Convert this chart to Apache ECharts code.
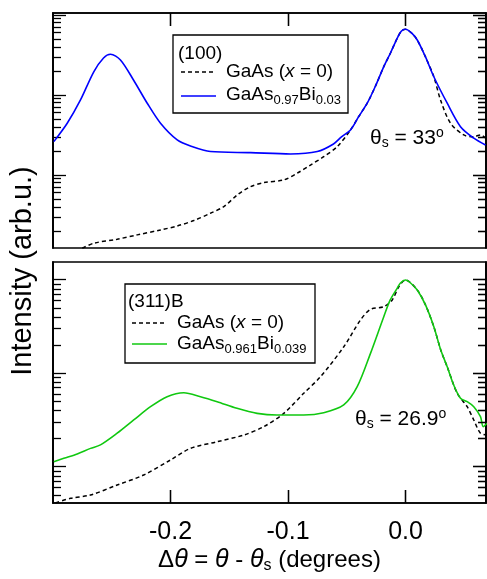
<!DOCTYPE html>
<html><head><meta charset="utf-8">
<script src="https://cdn.jsdelivr.net/npm/echarts@6/dist/echarts.min.js"></script>
<style>html,body{margin:0;padding:0;background:#fff}#c{width:487px;height:579px}</style>
</head><body><div id="c"></div>
<script>
// ---- x axis ----
const xTicks = [-0.2, -0.1, 0.0];
const xTickLabels = ['-0.2', '-0.1', '0.0'];

// ---- top panel: (100), theta_s = 33 deg ----
const topBiX = [-0.2993,-0.2879,-0.2766,-0.2653,-0.2570,-0.2511,-0.2426,-0.2315,-0.2198,-0.2085,-0.1943,-0.1830,-0.1660,-0.1319,-0.0979,-0.0751,-0.0613,-0.0545,-0.0468,-0.0400,-0.0326,-0.0255,-0.0185,-0.0128,-0.0071,-0.0034,0.0000,0.0051,0.0100,0.0170,0.0241,0.0355,0.0468,0.0581,0.0681];
const topBiY = [26.1,44.3,86.6,195,290,323,274,154,78.8,44.3,27.4,23.0,19.6,19.0,18.3,19.6,24.4,29.9,36.5,53.1,78.8,130,226,335,511,631,663,596,487,299,169,78.8,40.1,28.8,23.7];
const topGaAsX = [-0.2751,-0.2653,-0.2454,-0.2283,-0.2085,-0.1943,-0.1802,-0.1660,-0.1546,-0.1432,-0.1319,-0.1206,-0.1036,-0.0922,-0.0809,-0.0696,-0.0581,-0.0468,-0.0400,-0.0326,-0.0255,-0.0185,-0.0128,-0.0071,-0.0034,0.0000,0.0051,0.0100,0.0170,0.0241,0.0298,0.0383,0.0496,0.0581,0.0638,0.0681];
const topGaAsY = [1.21,1.40,1.57,1.78,2.05,2.30,2.69,3.32,4.02,5.62,7.14,8.01,8.66,10.5,13.3,16.9,22.6,36.5,53.1,78.8,130,226,335,511,631,663,596,487,299,169,86.6,44.3,31.6,30.1,31.6,29.0];
const topYMin = 1.22, topYMax = 1059;
const topDecades = [1, 10, 100, 1000];

// ---- bottom panel: (311)B, theta_s = 26.9 deg ----
const botBiX = [-0.2993,-0.2908,-0.2794,-0.2681,-0.2596,-0.2454,-0.2313,-0.2170,-0.2029,-0.1887,-0.1745,-0.1603,-0.1434,-0.1263,-0.1094,-0.0866,-0.0696,-0.0526,-0.0411,-0.0298,-0.0185,-0.0130,-0.0071,-0.0043,0.0000,0.0043,0.0100,0.0170,0.0241,0.0300,0.0355,0.0410,0.0468,0.0525,0.0581,0.0638,0.0661,0.0695];
const botBiY = [1.13,1.23,1.37,1.57,1.71,2.28,3.16,4.38,5.61,6.18,5.61,4.96,4.21,3.72,3.57,3.57,3.78,4.57,7.17,16.3,40.2,60.7,80.9,92.2,99.3,92.2,77.6,53.7,31.4,17.7,11.7,7.48,5.39,4.96,4.38,3.43,2.68,2.91];
const botGaAsX = [-0.2979,-0.2851,-0.2681,-0.2454,-0.2228,-0.2000,-0.1830,-0.1603,-0.1376,-0.1206,-0.1036,-0.0866,-0.0723,-0.0525,-0.0383,-0.0298,-0.0185,-0.0113,-0.0057,0.0000,0.0100,0.0170,0.0241,0.0300,0.0355,0.0440,0.0525,0.0581,0.0638,0.0695];
const botGaAsY = [0.41,0.459,0.498,0.637,0.815,1.18,1.57,1.85,2.18,2.68,3.72,6.10,9.18,19.2,37.1,48.2,51.4,60.7,84.1,99.3,77.6,53.7,31.4,17.7,11.7,6.10,4.38,3.16,2.28,2.18];
const botYMin = 0.409, botYMax = 154.6;
const botDecades = [0.1, 1, 10, 100];

const FONT = "'Liberation Sans', Arial, Helvetica, sans-serif";
const xMin = -0.3, xMax = 0.0685;

function pairs(xs, ys) { return xs.map((x, i) => [x, ys[i]]); }
function majors(decs, lo, hi) { return decs.filter(v => v >= lo && v <= hi); }
function minors(decs, lo, hi) {
  const out = [];
  decs.forEach(d => { for (let m = 2; m <= 9; m++) { const v = m * d; if (v >= lo && v <= hi) out.push(v); } });
  return out;
}

const grids = [
  { left: 53, top: 13, width: 433, height: 235 },
  { left: 53, top: 262, width: 433, height: 241 }
];
const tickStyle = { color: '#000', width: 1.3 };
const axLine = { show: true, onZero: false, lineStyle: { color: '#000', width: 1.5 } };
const MAJ = 13, MIN = 8;

function yAxesFor(g, lo, hi, decs) {
  const maj = majors(decs, lo, hi), mnr = minors(decs, lo, hi);
  const base = { gridIndex: g, type: 'log', logBase: 10, min: lo, max: hi,
    axisLine: axLine, axisLabel: { show: false }, splitLine: { show: false } };
  return [
    Object.assign({}, base, { position: 'left', axisTick: { inside: true, length: MAJ, customValues: maj, lineStyle: tickStyle } }),
    Object.assign({}, base, { position: 'left', axisTick: { inside: true, length: MIN, customValues: mnr, lineStyle: tickStyle } }),
    Object.assign({}, base, { position: 'right', axisTick: { inside: true, length: MAJ, customValues: maj, lineStyle: tickStyle } }),
    Object.assign({}, base, { position: 'right', axisTick: { inside: true, length: MIN, customValues: mnr, lineStyle: tickStyle } })
  ];
}

function tickLabel(v) {
  let best = 0;
  xTicks.forEach((t, i) => { if (Math.abs(t - v) < Math.abs(xTicks[best] - v)) best = i; });
  return xTickLabels[best];
}

// tick marks on the right frame and on the x frame, expressed in data space of each panel
function frameTicks(gi, lo, hi, decs, xEdge) {
  const g = grids[gi];
  const xPerPx = (xMax - xMin) / g.width;
  const decPerPx = Math.log10(hi / lo) / g.height;
  const segs = [];
  majors(decs, lo, hi).forEach(v => segs.push([{ coord: [xMax, v] }, { coord: [xMax - MAJ * xPerPx, v] }]));
  minors(decs, lo, hi).forEach(v => segs.push([{ coord: [xMax, v] }, { coord: [xMax - MIN * xPerPx, v] }]));
  xTicks.forEach(t => {
    if (xEdge === 'top') segs.push([{ coord: [t, hi] }, { coord: [t, hi / Math.pow(10, MAJ * decPerPx)] }]);
    else segs.push([{ coord: [t, lo] }, { coord: [t, lo * Math.pow(10, MAJ * decPerPx)] }]);
  });
  return { silent: true, symbol: ['none', 'none'], label: { show: false },
    lineStyle: { color: '#000', width: 1.3, type: 'solid' }, emphasis: { disabled: true }, data: segs };
}

const chart = echarts.init(document.getElementById('c'), null, { renderer: 'canvas' });
const option = {
  animation: false,
  backgroundColor: '#fff',
  grid: grids.map(g => Object.assign({ show: true, borderColor: '#000', borderWidth: 1.5 }, g)),
  xAxis: [
    { gridIndex: 0, type: 'value', min: xMin, max: xMax, position: 'top',
      axisLine: axLine, splitLine: { show: false }, axisLabel: { show: false },
      axisTick: { inside: true, length: MAJ, customValues: xTicks, lineStyle: tickStyle } },
    { gridIndex: 1, type: 'value', min: xMin, max: xMax, position: 'bottom',
      axisLine: axLine, splitLine: { show: false },
      axisTick: { inside: true, length: MAJ, customValues: xTicks, lineStyle: tickStyle },
      axisLabel: { customValues: xTicks, formatter: tickLabel, color: '#000', fontSize: 25, fontFamily: FONT, margin: 17 },
      name: 'Δ{i|θ} = {i|θ} - {i|θ}{sub|s} (degrees)',
      nameLocation: 'middle', nameGap: 43,
      nameTextStyle: { color: '#000', fontSize: 24, fontFamily: FONT, lineHeight: 28,
        rich: {
          i: { fontStyle: 'italic', fontSize: 25, fontFamily: FONT, color: '#000', lineHeight: 28 },
          sub: { fontSize: 16, fontFamily: FONT, color: '#000', lineHeight: 16, verticalAlign: 'bottom' }
        } } }
  ],
  yAxis: [].concat(yAxesFor(0, topYMin, topYMax, topDecades), yAxesFor(1, botYMin, botYMax, botDecades)),
  series: [
    { name: 'GaAs (x = 0) (100)', type: 'line', xAxisIndex: 0, yAxisIndex: 0, showSymbol: false, smooth: 0.3,
      lineStyle: { color: '#000', width: 1.5, type: [4, 3] }, data: pairs(topGaAsX, topGaAsY) },
    { name: 'GaAs0.97Bi0.03', type: 'line', xAxisIndex: 0, yAxisIndex: 0, showSymbol: false, smooth: 0.3,
      lineStyle: { color: '#0000ff', width: 1.6 }, data: pairs(topBiX, topBiY),
      markLine: frameTicks(0, topYMin, topYMax, topDecades, 'top') },
    { name: 'GaAs (x = 0) (311)B', type: 'line', xAxisIndex: 1, yAxisIndex: 4, showSymbol: false, smooth: 0.3,
      lineStyle: { color: '#000', width: 1.5, type: [4, 3] }, data: pairs(botGaAsX, botGaAsY) },
    { name: 'GaAs0.961Bi0.039', type: 'line', xAxisIndex: 1, yAxisIndex: 4, showSymbol: false, smooth: 0.3,
      lineStyle: { color: '#10c810', width: 1.6 }, data: pairs(botBiX, botBiY),
      markLine: frameTicks(1, botYMin, botYMax, botDecades, 'bottom') }
  ],
  graphic: []
};

const legFont = 19;
const richLeg = {
  i: { fontStyle: 'italic', fontSize: legFont, fontFamily: FONT, fill: '#000', lineHeight: 24 },
  sub: { fontSize: 13, fontFamily: FONT, fill: '#000', lineHeight: 13, verticalAlign: 'bottom' }
};
function txt(x, y, text, size, rich, rot) {
  return { type: 'text', x: x, y: y, rotation: rot || 0, z: 100,
    style: { text: text, fill: '#000', fontSize: size, fontFamily: FONT, lineHeight: 24,
      align: rot ? 'center' : 'left', verticalAlign: 'middle',
      textAlign: rot ? 'center' : 'left', textVerticalAlign: 'middle', rich: rich || {} } };
}
function rect(x, y, w, h) {
  return { type: 'rect', z: 90, shape: { x: x, y: y, width: w, height: h }, style: { fill: '#fff', stroke: '#000', lineWidth: 1.3 } };
}
function seg(x1, x2, y, color, dash) {
  return { type: 'line', z: 100, shape: { x1: x1, y1: y, x2: x2, y2: y }, style: { stroke: color, lineWidth: 1.6, lineDash: dash || null } };
}
const annRich = {
  sub: { fontSize: 14, fontFamily: FONT, fill: '#000', lineHeight: 14, verticalAlign: 'bottom' },
  sup: { fontSize: 14, fontFamily: FONT, fill: '#000', lineHeight: 14, verticalAlign: 'top' }
};

option.graphic = [
  rect(173, 35, 175, 78),
  txt(178, 54, '(100)', legFont),
  seg(181, 216, 72, '#000', [4, 3]),
  txt(226, 72, 'GaAs ({i|x} = 0)', legFont, richLeg),
  seg(181, 216, 96, '#0000ff'),
  txt(226, 95, 'GaAs{sub|0.97}Bi{sub|0.03}', legFont, richLeg),
  rect(125, 284, 190, 79),
  txt(128, 302, '(311)B', legFont),
  seg(132, 167, 323, '#000', [4, 3]),
  txt(177, 323, 'GaAs ({i|x} = 0)', legFont, richLeg),
  seg(132, 167, 344, '#10c810'),
  txt(177, 344, 'GaAs{sub|0.961}Bi{sub|0.039}', legFont, richLeg),
  txt(370, 138, 'θ{sub|s} = 33{sup|o}', 21, annRich),
  txt(355, 419, 'θ{sub|s} = 26.9{sup|o}', 21, annRich),
  txt(23, 271, 'Intensity (arb.u.)', 29, null, Math.PI / 2)
];

chart.setOption(option);
</script>
</body></html>
